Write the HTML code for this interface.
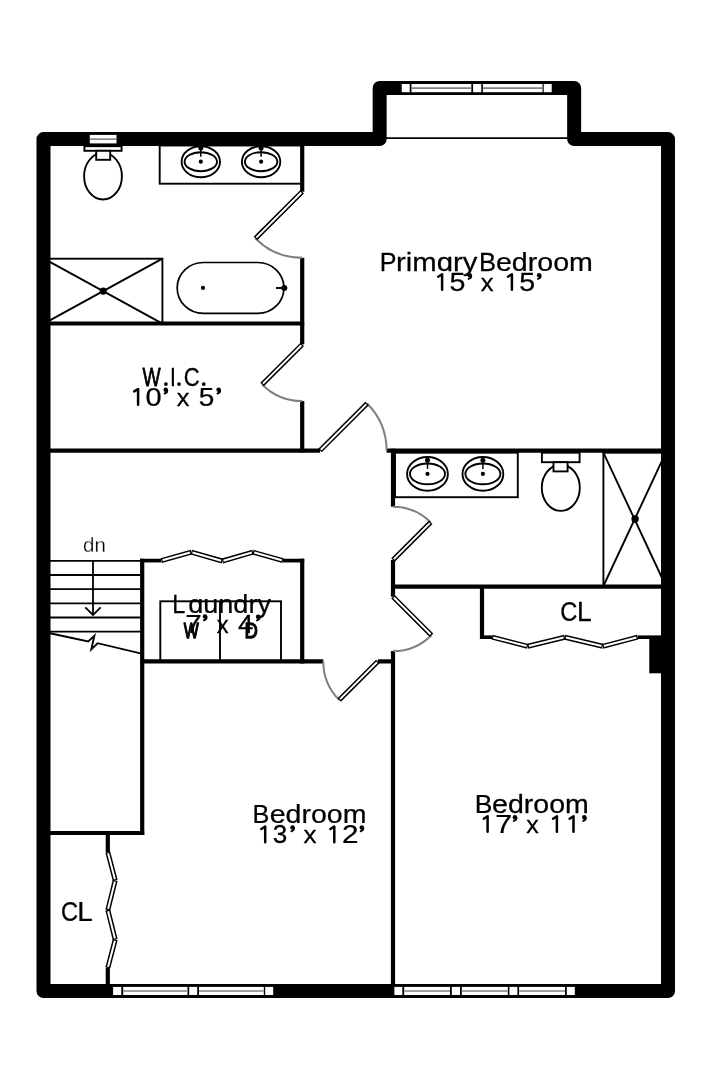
<!DOCTYPE html>
<html><head><meta charset="utf-8"><style>
html,body{margin:0;padding:0;background:#fff;}
svg{display:block;will-change:transform;}
text{font-family:"Liberation Sans",sans-serif;fill:#000;stroke:#000;stroke-width:0.25px;stroke-linejoin:round;}
</style></head><body>
<svg width="720" height="1080" viewBox="0 0 720 1080">
<rect width="720" height="1080" fill="#fff"/>
<polygon points="43.50,139.10 379.65,139.10 379.65,87.90 574.15,87.90 574.15,139.10 668.00,139.10 668.00,991.05 43.50,991.05" fill="none" stroke="#000" stroke-width="14.00" stroke-linejoin="round"/>
<rect x="89.80" y="134.90" width="26.70" height="8.50" fill="#fff"/>
<line x1="89.80" y1="139.15" x2="116.50" y2="139.15" stroke="#808080" stroke-width="1.6"/>
<rect x="401.70" y="84.00" width="8.00" height="8.20" fill="#fff"/>
<rect x="411.50" y="84.00" width="59.80" height="8.20" fill="#fff"/>
<line x1="411.50" y1="88.10" x2="471.30" y2="88.10" stroke="#808080" stroke-width="1.6"/>
<rect x="473.10" y="84.00" width="8.20" height="8.20" fill="#fff"/>
<rect x="482.90" y="84.00" width="59.60" height="8.20" fill="#fff"/>
<line x1="482.90" y1="88.10" x2="542.50" y2="88.10" stroke="#808080" stroke-width="1.6"/>
<rect x="543.70" y="84.00" width="8.00" height="8.20" fill="#fff"/>
<rect x="113.10" y="986.90" width="8.20" height="8.10" fill="#fff"/>
<rect x="123.20" y="986.90" width="64.30" height="8.10" fill="#fff"/>
<line x1="123.20" y1="990.95" x2="187.50" y2="990.95" stroke="#808080" stroke-width="1.6"/>
<rect x="189.20" y="986.90" width="8.00" height="8.10" fill="#fff"/>
<rect x="199.00" y="986.90" width="64.80" height="8.10" fill="#fff"/>
<line x1="199.00" y1="990.95" x2="263.80" y2="990.95" stroke="#808080" stroke-width="1.6"/>
<rect x="265.20" y="986.90" width="8.00" height="8.10" fill="#fff"/>
<rect x="394.40" y="986.90" width="7.90" height="8.10" fill="#fff"/>
<rect x="404.20" y="986.90" width="45.80" height="8.10" fill="#fff"/>
<line x1="404.20" y1="990.95" x2="450.00" y2="990.95" stroke="#808080" stroke-width="1.6"/>
<rect x="451.80" y="986.90" width="8.20" height="8.10" fill="#fff"/>
<rect x="461.80" y="986.90" width="46.00" height="8.10" fill="#fff"/>
<line x1="461.80" y1="990.95" x2="507.80" y2="990.95" stroke="#808080" stroke-width="1.6"/>
<rect x="509.40" y="986.90" width="8.00" height="8.10" fill="#fff"/>
<rect x="519.10" y="986.90" width="45.90" height="8.10" fill="#fff"/>
<line x1="519.10" y1="990.95" x2="565.00" y2="990.95" stroke="#808080" stroke-width="1.6"/>
<rect x="566.80" y="986.90" width="8.00" height="8.10" fill="#fff"/>
<line x1="386" y1="138.2" x2="568" y2="138.2" stroke="#000" stroke-width="1.8"/>
<line x1="302.20" y1="145.00" x2="302.20" y2="191.70" stroke="#000" stroke-width="4.20" stroke-linecap="butt"/>
<line x1="302.20" y1="257.80" x2="302.20" y2="344.40" stroke="#000" stroke-width="4.20" stroke-linecap="butt"/>
<line x1="302.20" y1="401.10" x2="302.20" y2="452.50" stroke="#000" stroke-width="4.20" stroke-linecap="butt"/>
<line x1="50.00" y1="323.50" x2="304.20" y2="323.50" stroke="#000" stroke-width="4.20" stroke-linecap="butt"/>
<line x1="50.00" y1="450.60" x2="320.00" y2="450.60" stroke="#000" stroke-width="4.20" stroke-linecap="butt"/>
<line x1="386.60" y1="450.70" x2="662.00" y2="450.70" stroke="#000" stroke-width="4.20" stroke-linecap="butt"/>
<line x1="393.00" y1="448.70" x2="393.00" y2="506.70" stroke="#000" stroke-width="4.20" stroke-linecap="butt"/>
<line x1="393.00" y1="560.00" x2="393.00" y2="596.70" stroke="#000" stroke-width="4.20" stroke-linecap="butt"/>
<line x1="393.00" y1="651.10" x2="393.00" y2="985.00" stroke="#000" stroke-width="4.20" stroke-linecap="butt"/>
<line x1="391.00" y1="586.60" x2="662.00" y2="586.60" stroke="#000" stroke-width="4.20" stroke-linecap="butt"/>
<line x1="482.00" y1="586.60" x2="482.00" y2="639.00" stroke="#000" stroke-width="4.20" stroke-linecap="butt"/>
<line x1="480.00" y1="637.20" x2="492.00" y2="637.20" stroke="#000" stroke-width="3.60" stroke-linecap="butt"/>
<line x1="637.60" y1="637.20" x2="662.00" y2="637.20" stroke="#000" stroke-width="3.60" stroke-linecap="butt"/>
<rect x="649.3" y="636.9" width="12.5" height="36.4" fill="#000"/>
<line x1="142.20" y1="558.70" x2="142.20" y2="835.00" stroke="#000" stroke-width="4.20" stroke-linecap="butt"/>
<line x1="140.20" y1="560.60" x2="161.30" y2="560.60" stroke="#000" stroke-width="3.70" stroke-linecap="butt"/>
<line x1="283.00" y1="560.60" x2="304.20" y2="560.60" stroke="#000" stroke-width="3.70" stroke-linecap="butt"/>
<line x1="302.20" y1="558.70" x2="302.20" y2="663.50" stroke="#000" stroke-width="4.20" stroke-linecap="butt"/>
<line x1="140.20" y1="661.40" x2="323.30" y2="661.40" stroke="#000" stroke-width="4.20" stroke-linecap="butt"/>
<line x1="377.80" y1="661.40" x2="395.00" y2="661.40" stroke="#000" stroke-width="4.20" stroke-linecap="butt"/>
<line x1="50.00" y1="833.00" x2="144.20" y2="833.00" stroke="#000" stroke-width="4.20" stroke-linecap="butt"/>
<line x1="107.80" y1="833.00" x2="107.80" y2="852.20" stroke="#000" stroke-width="4.20" stroke-linecap="butt"/>
<line x1="107.80" y1="967.80" x2="107.80" y2="985.00" stroke="#000" stroke-width="4.20" stroke-linecap="butt"/>
<path d="M255.46 238.44 A66.10 66.10 0 0 0 302.20 257.80" fill="none" stroke="#808080" stroke-width="2.0"/>
<line x1="302.20" y1="191.70" x2="255.46" y2="238.44" stroke="#000" stroke-width="5.00"/>
<line x1="301.35" y1="192.55" x2="256.31" y2="237.59" stroke="#fff" stroke-width="2.00"/>
<path d="M262.11 384.49 A56.70 56.70 0 0 0 302.20 401.10" fill="none" stroke="#808080" stroke-width="2.0"/>
<line x1="302.20" y1="344.40" x2="262.11" y2="384.49" stroke="#000" stroke-width="5.00"/>
<line x1="301.35" y1="345.25" x2="262.96" y2="383.64" stroke="#fff" stroke-width="2.00"/>
<path d="M367.09 403.51 A66.60 66.60 0 0 1 386.60 450.60" fill="none" stroke="#808080" stroke-width="2.0"/>
<line x1="320.00" y1="450.60" x2="367.09" y2="403.51" stroke="#000" stroke-width="5.00"/>
<line x1="320.85" y1="449.75" x2="366.24" y2="404.36" stroke="#fff" stroke-width="2.00"/>
<path d="M430.69 522.31 A53.30 53.30 0 0 0 393.00 506.70" fill="none" stroke="#808080" stroke-width="2.0"/>
<line x1="393.00" y1="560.00" x2="430.69" y2="522.31" stroke="#000" stroke-width="5.00"/>
<line x1="393.85" y1="559.15" x2="429.84" y2="523.16" stroke="#fff" stroke-width="2.00"/>
<path d="M431.47 635.17 A54.40 54.40 0 0 1 393.00 651.10" fill="none" stroke="#808080" stroke-width="2.0"/>
<line x1="393.00" y1="596.70" x2="431.47" y2="635.17" stroke="#000" stroke-width="5.00"/>
<line x1="393.85" y1="597.55" x2="430.62" y2="634.32" stroke="#fff" stroke-width="2.00"/>
<path d="M339.26 699.94 A54.50 54.50 0 0 1 323.30 661.40" fill="none" stroke="#808080" stroke-width="2.0"/>
<line x1="377.80" y1="661.40" x2="339.26" y2="699.94" stroke="#000" stroke-width="5.00"/>
<line x1="376.95" y1="662.25" x2="340.11" y2="699.09" stroke="#fff" stroke-width="2.00"/>
<line x1="161.30" y1="560.60" x2="191.30" y2="552.20" stroke="#000" stroke-width="5.00"/>
<line x1="162.46" y1="560.28" x2="190.14" y2="552.52" stroke="#fff" stroke-width="2.00"/>
<line x1="191.30" y1="552.20" x2="222.30" y2="561.00" stroke="#000" stroke-width="5.00"/>
<line x1="192.45" y1="552.53" x2="221.15" y2="560.67" stroke="#fff" stroke-width="2.00"/>
<line x1="222.30" y1="561.00" x2="253.00" y2="552.20" stroke="#000" stroke-width="5.00"/>
<line x1="223.45" y1="560.67" x2="251.85" y2="552.53" stroke="#fff" stroke-width="2.00"/>
<line x1="253.00" y1="552.20" x2="283.00" y2="560.60" stroke="#000" stroke-width="5.00"/>
<line x1="254.16" y1="552.52" x2="281.84" y2="560.28" stroke="#fff" stroke-width="2.00"/>
<line x1="492.00" y1="637.20" x2="527.70" y2="646.30" stroke="#000" stroke-width="5.00"/>
<line x1="493.16" y1="637.50" x2="526.54" y2="646.00" stroke="#fff" stroke-width="2.00"/>
<line x1="527.70" y1="646.30" x2="564.80" y2="637.20" stroke="#000" stroke-width="5.00"/>
<line x1="528.87" y1="646.01" x2="563.63" y2="637.49" stroke="#fff" stroke-width="2.00"/>
<line x1="564.80" y1="637.20" x2="602.70" y2="646.30" stroke="#000" stroke-width="5.00"/>
<line x1="565.97" y1="637.48" x2="601.53" y2="646.02" stroke="#fff" stroke-width="2.00"/>
<line x1="602.70" y1="646.30" x2="637.60" y2="637.20" stroke="#000" stroke-width="5.00"/>
<line x1="603.86" y1="646.00" x2="636.44" y2="637.50" stroke="#fff" stroke-width="2.00"/>
<line x1="107.80" y1="852.20" x2="115.20" y2="880.40" stroke="#000" stroke-width="5.00"/>
<line x1="108.10" y1="853.36" x2="114.90" y2="879.24" stroke="#fff" stroke-width="2.00"/>
<line x1="115.20" y1="880.40" x2="107.80" y2="910.00" stroke="#000" stroke-width="5.00"/>
<line x1="114.91" y1="881.56" x2="108.09" y2="908.84" stroke="#fff" stroke-width="2.00"/>
<line x1="107.80" y1="910.00" x2="115.20" y2="939.60" stroke="#000" stroke-width="5.00"/>
<line x1="108.09" y1="911.16" x2="114.91" y2="938.44" stroke="#fff" stroke-width="2.00"/>
<line x1="115.20" y1="939.60" x2="107.80" y2="967.80" stroke="#000" stroke-width="5.00"/>
<line x1="114.90" y1="940.76" x2="108.10" y2="966.64" stroke="#fff" stroke-width="2.00"/>
<line x1="50" y1="560.80" x2="140.5" y2="560.80" stroke="#000" stroke-width="1.8"/>
<line x1="50" y1="575.00" x2="140.5" y2="575.00" stroke="#000" stroke-width="1.8"/>
<line x1="50" y1="589.20" x2="140.5" y2="589.20" stroke="#000" stroke-width="1.8"/>
<line x1="50" y1="603.30" x2="140.5" y2="603.30" stroke="#000" stroke-width="1.8"/>
<line x1="50" y1="617.50" x2="140.5" y2="617.50" stroke="#000" stroke-width="1.8"/>
<line x1="50" y1="631.70" x2="140.5" y2="631.70" stroke="#000" stroke-width="1.8"/>
<line x1="93" y1="560.8" x2="93" y2="614.5" stroke="#000" stroke-width="1.8"/>
<polyline points="85.3,607.3 93,615 100.7,607.3" fill="none" stroke="#000" stroke-width="1.8"/>
<polyline points="50,633.3 88.2,641.4 94.4,635.8 91.3,649.4 97.6,643.2 140.5,653.4" fill="none" stroke="#000" stroke-width="1.9" stroke-linejoin="miter"/>
<ellipse cx="103.00" cy="176.20" rx="18.90" ry="23.30" fill="#fff" stroke="#000" stroke-width="1.90"/>
<rect x="84.40" y="146.20" width="37.20" height="4.60" fill="#fff" stroke="#000" stroke-width="1.90"/>
<rect x="96.20" y="150.80" width="14.00" height="9.00" fill="#fff" stroke="#000" stroke-width="1.90"/>
<rect x="159.70" y="145.50" width="142.30" height="38.20" fill="none" stroke="#000" stroke-width="1.90"/>
<ellipse cx="200.80" cy="161.70" rx="19.20" ry="15.50" fill="#fff" stroke="#000" stroke-width="1.90"/>
<ellipse cx="200.80" cy="161.70" rx="16.20" ry="9.50" fill="none" stroke="#000" stroke-width="1.90"/>
<circle cx="200.80" cy="148.10" r="2.50" fill="#000"/>
<line x1="200.80" y1="147.70" x2="200.80" y2="156.70" stroke="#000" stroke-width="1.50"/>
<circle cx="200.80" cy="161.70" r="2.10" fill="#000"/>
<ellipse cx="261.10" cy="161.70" rx="19.20" ry="15.50" fill="#fff" stroke="#000" stroke-width="1.90"/>
<ellipse cx="261.10" cy="161.70" rx="16.20" ry="9.50" fill="none" stroke="#000" stroke-width="1.90"/>
<circle cx="261.10" cy="148.10" r="2.50" fill="#000"/>
<line x1="261.10" y1="147.70" x2="261.10" y2="156.70" stroke="#000" stroke-width="1.50"/>
<circle cx="261.10" cy="161.70" r="2.10" fill="#000"/>
<rect x="43.90" y="258.70" width="118.50" height="64.90" fill="none" stroke="#000" stroke-width="1.90"/>
<line x1="43.90" y1="258.70" x2="162.40" y2="323.60" stroke="#000" stroke-width="1.90"/>
<line x1="43.90" y1="323.60" x2="162.40" y2="258.70" stroke="#000" stroke-width="1.90"/>
<circle cx="103.20" cy="291.10" r="3.60" fill="#000"/>
<rect x="177.2" y="262.5" width="106.7" height="50.9" rx="26" ry="25.5" fill="none" stroke="#000" stroke-width="1.7"/>
<circle cx="203.00" cy="287.90" r="2.10" fill="#000"/>
<circle cx="284.30" cy="288.00" r="3.00" fill="#000"/>
<line x1="276.00" y1="288.00" x2="284.00" y2="288.00" stroke="#000" stroke-width="1.90"/>
<rect x="395.00" y="452.70" width="122.80" height="44.50" fill="none" stroke="#000" stroke-width="1.90"/>
<ellipse cx="427.50" cy="473.90" rx="20.40" ry="16.90" fill="#fff" stroke="#000" stroke-width="1.90"/>
<ellipse cx="427.50" cy="473.90" rx="17.50" ry="10.40" fill="none" stroke="#000" stroke-width="1.90"/>
<circle cx="427.50" cy="460.30" r="2.50" fill="#000"/>
<line x1="427.50" y1="459.90" x2="427.50" y2="468.90" stroke="#000" stroke-width="1.50"/>
<circle cx="427.50" cy="473.90" r="2.10" fill="#000"/>
<ellipse cx="482.90" cy="473.90" rx="20.40" ry="16.90" fill="#fff" stroke="#000" stroke-width="1.90"/>
<ellipse cx="482.90" cy="473.90" rx="17.50" ry="10.40" fill="none" stroke="#000" stroke-width="1.90"/>
<circle cx="482.90" cy="460.30" r="2.50" fill="#000"/>
<line x1="482.90" y1="459.90" x2="482.90" y2="468.90" stroke="#000" stroke-width="1.50"/>
<circle cx="482.90" cy="473.90" r="2.10" fill="#000"/>
<ellipse cx="560.80" cy="487.80" rx="19.00" ry="23.10" fill="#fff" stroke="#000" stroke-width="1.90"/>
<rect x="541.90" y="452.70" width="37.70" height="9.50" fill="#fff" stroke="#000" stroke-width="1.90"/>
<rect x="553.50" y="462.20" width="14.10" height="9.20" fill="#fff" stroke="#000" stroke-width="1.90"/>
<rect x="603.40" y="452.70" width="62.40" height="133.30" fill="none" stroke="#000" stroke-width="1.90"/>
<line x1="603.40" y1="452.70" x2="665.80" y2="586.00" stroke="#000" stroke-width="1.90"/>
<line x1="603.40" y1="586.00" x2="665.80" y2="452.70" stroke="#000" stroke-width="1.90"/>
<circle cx="635.10" cy="519.00" r="3.70" fill="#000"/>
<rect x="160.30" y="601.30" width="120.70" height="59.70" fill="none" stroke="#000" stroke-width="1.90"/>
<line x1="220.00" y1="601.30" x2="220.00" y2="661.00" stroke="#000" stroke-width="1.90"/>
<line x1="668" y1="440" x2="668" y2="600" stroke="#000" stroke-width="14.00"/>
<text transform="translate(379.80 271.20) scale(0.9500 1)" font-size="26.40">P</text>
<text transform="translate(396.08 271.20) scale(1.1113 1)" font-size="26.40">rimɑry</text>
<text transform="translate(479.06 271.20) scale(0.9714 1)" font-size="26.40">B</text>
<text transform="translate(495.92 271.20) scale(1.0833 1)" font-size="26.40">edroom</text>
<text transform="translate(449.42 291.10) scale(1.0846 1)" font-size="26.40">5</text>
<g transform="translate(467.20 272.80)"><circle cx="2.5" cy="2.35" r="2.25" fill="#000"/><path d="M3.95 2.9 Q4.25 5.2 1.45 6.1" fill="none" stroke="#000" stroke-width="2.0" stroke-linecap="round"/></g>
<text transform="translate(480.85 291.10) scale(1.0455 1)" font-size="24.50">x</text>
<text transform="translate(519.22 291.10) scale(1.0846 1)" font-size="26.40">5</text>
<g transform="translate(536.60 272.80)"><circle cx="2.5" cy="2.35" r="2.25" fill="#000"/><path d="M3.95 2.9 Q4.25 5.2 1.45 6.1" fill="none" stroke="#000" stroke-width="2.0" stroke-linecap="round"/></g>
<text transform="translate(142.40 386.00) scale(0.7280 1)" font-size="26.40" style="stroke-width:0.8px">W</text>
<text transform="translate(169.90 386.00) scale(0.8000 1)" font-size="26.40">I</text>
<text transform="translate(183.66 386.00) scale(0.8382 1)" font-size="26.40">C</text>
<text transform="translate(145.50 406.10) scale(1.1000 1)" font-size="26.40">0</text>
<g transform="translate(163.20 387.40)"><circle cx="2.5" cy="2.35" r="2.25" fill="#000"/><path d="M3.95 2.9 Q4.25 5.2 1.45 6.1" fill="none" stroke="#000" stroke-width="2.0" stroke-linecap="round"/></g>
<text transform="translate(176.76 406.10) scale(1.0364 1)" font-size="24.50">x</text>
<text transform="translate(198.64 406.10) scale(1.0615 1)" font-size="26.40">5</text>
<g transform="translate(216.10 387.40)"><circle cx="2.5" cy="2.35" r="2.25" fill="#000"/><path d="M3.95 2.9 Q4.25 5.2 1.45 6.1" fill="none" stroke="#000" stroke-width="2.0" stroke-linecap="round"/></g>
<text transform="translate(82.99 552.00) scale(1.0100 1)" font-size="20.30" style="stroke:#fff;stroke-width:0.25px">dn</text>
<text transform="translate(172.22 612.80) scale(0.8917 1)" font-size="26.40">L</text>
<text transform="translate(188.22 612.80) scale(1.0250 1)" font-size="26.40">ɑundry</text>
<text transform="translate(185.18 632.80) scale(1.1167 1)" font-size="26.40">7</text>
<g transform="translate(202.50 614.20)"><circle cx="2.5" cy="2.35" r="2.25" fill="#000"/><path d="M3.95 2.9 Q4.25 5.2 1.45 6.1" fill="none" stroke="#000" stroke-width="2.0" stroke-linecap="round"/></g>
<text transform="translate(216.84 632.80) scale(0.9636 1)" font-size="24.50">x</text>
<text transform="translate(238.05 632.80) scale(1.0462 1)" font-size="26.40">4</text>
<g transform="translate(255.60 614.30)"><circle cx="2.5" cy="2.35" r="2.25" fill="#000"/><path d="M3.95 2.9 Q4.25 5.2 1.45 6.1" fill="none" stroke="#000" stroke-width="2.0" stroke-linecap="round"/></g>
<text transform="translate(183.80 638.40) scale(0.7095 1)" font-size="22.40" style="stroke-width:1.3px">W</text>
<text transform="translate(244.60 638.20) scale(0.8269 1)" font-size="22.40" style="stroke-width:1.3px">D</text>
<text transform="translate(560.13 620.70) scale(0.8706 1)" font-size="27.20">C</text>
<text transform="translate(576.95 620.70) scale(0.9750 1)" font-size="27.20">L</text>
<text transform="translate(252.39 822.90) scale(0.9571 1)" font-size="26.40">B</text>
<text transform="translate(269.72 822.90) scale(1.0816 1)" font-size="26.40">edroom</text>
<text transform="translate(272.76 843.40) scale(0.9885 1)" font-size="26.40">3</text>
<g transform="translate(290.00 825.10)"><circle cx="2.5" cy="2.35" r="2.25" fill="#000"/><path d="M3.95 2.9 Q4.25 5.2 1.45 6.1" fill="none" stroke="#000" stroke-width="2.0" stroke-linecap="round"/></g>
<text transform="translate(303.44 843.40) scale(1.0636 1)" font-size="24.50">x</text>
<text transform="translate(341.88 843.40) scale(1.1250 1)" font-size="26.40">2</text>
<g transform="translate(359.30 825.10)"><circle cx="2.5" cy="2.35" r="2.25" fill="#000"/><path d="M3.95 2.9 Q4.25 5.2 1.45 6.1" fill="none" stroke="#000" stroke-width="2.0" stroke-linecap="round"/></g>
<text transform="translate(474.69 812.60) scale(1.0036 1)" font-size="26.40">B</text>
<text transform="translate(492.12 812.60) scale(1.0805 1)" font-size="26.40">edroom</text>
<text transform="translate(495.15 833.10) scale(1.1500 1)" font-size="26.40">7</text>
<g transform="translate(512.40 814.80)"><circle cx="2.5" cy="2.35" r="2.25" fill="#000"/><path d="M3.95 2.9 Q4.25 5.2 1.45 6.1" fill="none" stroke="#000" stroke-width="2.0" stroke-linecap="round"/></g>
<text transform="translate(526.28 833.10) scale(1.0182 1)" font-size="24.50">x</text>
<g transform="translate(581.80 814.80)"><circle cx="2.5" cy="2.35" r="2.25" fill="#000"/><path d="M3.95 2.9 Q4.25 5.2 1.45 6.1" fill="none" stroke="#000" stroke-width="2.0" stroke-linecap="round"/></g>
<text transform="translate(61.03 920.90) scale(0.8706 1)" font-size="27.20">C</text>
<text transform="translate(77.35 920.90) scale(1.0250 1)" font-size="27.20">L</text>
<circle cx="165.90" cy="384.10" r="1.90" fill="#000"/>
<circle cx="179.00" cy="384.10" r="1.90" fill="#000"/>
<circle cx="203.75" cy="384.10" r="1.90" fill="#000"/>
<path d="M438.20 276.70 L442.10 274.25 L442.10 289.85" fill="none" stroke="#000" stroke-width="2.5" stroke-linecap="round" stroke-linejoin="round"/>
<path d="M508.00 276.70 L511.90 274.25 L511.90 289.85" fill="none" stroke="#000" stroke-width="2.5" stroke-linecap="round" stroke-linejoin="round"/>
<path d="M134.20 391.40 L138.10 388.95 L138.10 404.85" fill="none" stroke="#000" stroke-width="2.5" stroke-linecap="round" stroke-linejoin="round"/>
<path d="M261.30 829.00 L265.20 826.55 L265.20 842.15" fill="none" stroke="#000" stroke-width="2.5" stroke-linecap="round" stroke-linejoin="round"/>
<path d="M330.40 829.00 L334.30 826.55 L334.30 842.15" fill="none" stroke="#000" stroke-width="2.5" stroke-linecap="round" stroke-linejoin="round"/>
<path d="M483.70 818.70 L487.60 816.25 L487.60 831.85" fill="none" stroke="#000" stroke-width="2.5" stroke-linecap="round" stroke-linejoin="round"/>
<path d="M553.00 818.70 L556.90 816.25 L556.90 831.85" fill="none" stroke="#000" stroke-width="2.5" stroke-linecap="round" stroke-linejoin="round"/>
<path d="M569.60 818.70 L573.50 816.25 L573.50 831.85" fill="none" stroke="#000" stroke-width="2.5" stroke-linecap="round" stroke-linejoin="round"/>
</svg>
</body></html>
